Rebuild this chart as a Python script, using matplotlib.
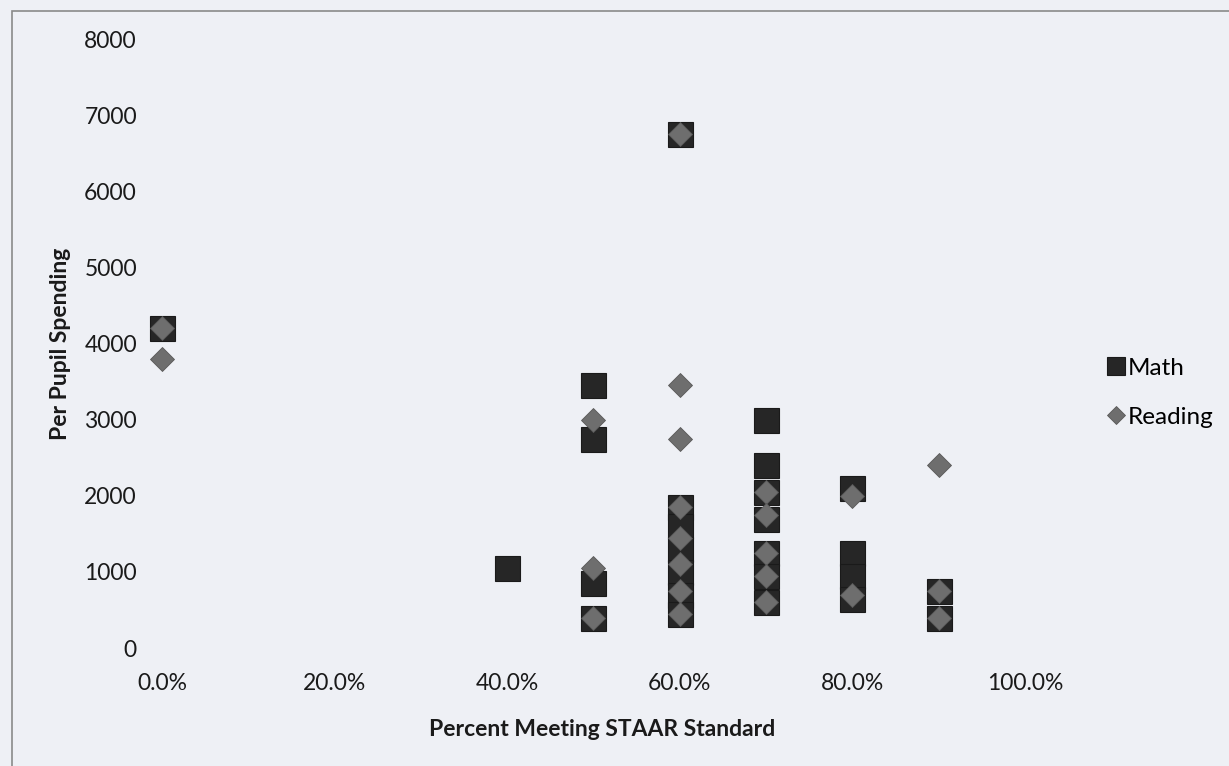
import matplotlib
matplotlib.use("Agg")
import matplotlib.pyplot as plt
from matplotlib.patches import Rectangle
from matplotlib.ticker import PercentFormatter

plt.rcParams['font.family'] = ['Lato', 'DejaVu Sans']

# Percent meeting standard (fraction) and per pupil spending
math_pct = [0.0, 0.4,
            0.5, 0.5, 0.5, 0.5,
            0.6, 0.6, 0.6, 0.6, 0.6, 0.6, 0.6,
            0.7, 0.7, 0.7, 0.7, 0.7, 0.7, 0.7,
            0.8, 0.8, 0.8, 0.8,
            0.9, 0.9]
math_spend = [4200, 1050,
              3450, 2750, 850, 400,
              6750, 1850, 1600, 1300, 1000, 700, 450,
              3000, 2400, 2050, 1700, 1250, 950, 600,
              2100, 1250, 950, 650,
              750, 400]

reading_pct = [0.0, 0.0,
               0.5, 0.5, 0.5,
               0.6, 0.6, 0.6, 0.6, 0.6, 0.6, 0.6, 0.6,
               0.7, 0.7, 0.7, 0.7, 0.7,
               0.8, 0.8,
               0.9, 0.9, 0.9]
reading_spend = [4200, 3800,
                 3000, 1050, 400,
                 6750, 3450, 2750, 1850, 1450, 1100, 750, 450,
                 2050, 1750, 1250, 950, 600,
                 2000, 700,
                 2400, 750, 400]

bg = '#eef0f5'
fig = plt.figure(figsize=(12.29, 7.66), dpi=100, facecolor=bg)
ax = fig.add_axes([0.1318, 0.154, 0.834 - 0.1318, 0.949 - 0.154])
ax.set_facecolor(bg)

ax.plot(math_pct, math_spend, linestyle='none', marker='s', markersize=18,
        color='#262626', markeredgecolor='#1a1a1a', markeredgewidth=0.8,
        label='Math', clip_on=False, zorder=3)
ax.plot(reading_pct, reading_spend, linestyle='none', marker='D', markersize=12.5,
        color='#6e6e6e', markeredgecolor='#585858', markeredgewidth=0.6,
        label='Reading', clip_on=False, zorder=4)

ax.set_xlim(0, 1.0)
ax.set_ylim(0, 8000)
ax.set_xticks([0, 0.2, 0.4, 0.6, 0.8, 1.0])
ax.xaxis.set_major_formatter(PercentFormatter(1.0, decimals=1))
ax.set_yticks(range(0, 8001, 1000))
ax.tick_params(axis='both', length=0, labelsize=16.5, colors='#1a1a1a')
ax.tick_params(axis='y', pad=18)
ax.tick_params(axis='x', pad=18)
for s in ax.spines.values():
    s.set_visible(False)

ax.set_xlabel('Percent Meeting STAAR Standard', fontsize=16.5, fontweight='bold',
              color='#1a1a1a', va='center')
ax.xaxis.set_label_coords(0.51, -0.133)
ax.set_ylabel('Per Pupil Spending', fontsize=16.5, fontweight='bold',
              color='#1a1a1a', va='center')
ax.yaxis.set_label_coords(-0.118, 0.5)

leg = fig.legend(loc='center left', bbox_to_anchor=(0.88, 0.487), frameon=False,
                 fontsize=17.5, handletextpad=0.0, labelspacing=1.15,
                 handlelength=1.0, markerscale=0.75)

fig.patches.append(Rectangle((12 / 1229, -0.05), 1.1, 1 - 11 / 766 + 0.05,
                             transform=fig.transFigure, fill=False,
                             edgecolor='#8a8a8a', linewidth=1.2))

fig.savefig('out.png', dpi=100, facecolor=bg)
